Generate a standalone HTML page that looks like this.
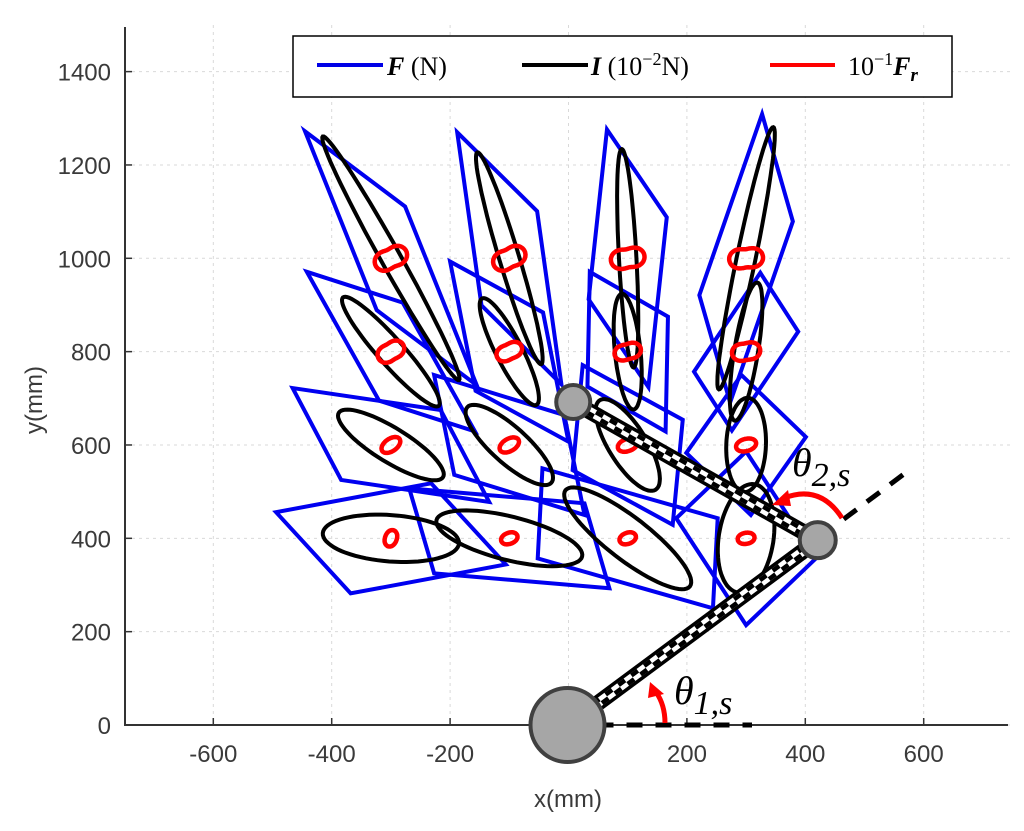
<!DOCTYPE html>
<html><head><meta charset="utf-8">
<style>
html,body{margin:0;padding:0;background:#fff;}
svg{display:block;}
.tick{font-family:"Liberation Sans",sans-serif;font-size:24px;fill:#3a3a3a;}
.lg{font-family:"Liberation Serif",serif;font-size:26px;fill:#000;}
.th{font-family:"Liberation Serif",serif;font-size:40px;font-style:italic;fill:#000;}
</style></head>
<body>
<svg id="chart" width="1024" height="831" viewBox="0 0 1024 831" xmlns="http://www.w3.org/2000/svg">
<g id="grid"></g>
<g id="axes"></g>
<g id="marks"></g>
<g id="robot"></g>
<g>
  <rect x="293" y="36" width="659" height="61" fill="#fff" stroke="#000" stroke-width="1.5"/>
  <line x1="317" y1="65" x2="383" y2="65" stroke="#0000e6" stroke-width="4"/>
  <text x="387" y="75" class="lg"><tspan font-weight="bold" font-style="italic">F</tspan> (N)</text>
  <line x1="522" y1="65" x2="588" y2="65" stroke="#000" stroke-width="4"/>
  <text x="591" y="75" class="lg"><tspan font-weight="bold" font-style="italic">I</tspan> (10<tspan dy="-10" font-size="18">−2</tspan><tspan dy="10">N)</tspan></text>
  <line x1="770" y1="65" x2="835" y2="65" stroke="#ff0000" stroke-width="4"/>
  <text x="848" y="75" class="lg">10<tspan dy="-10" font-size="18">−1</tspan><tspan dy="10" font-weight="bold" font-style="italic">F</tspan><tspan dy="6" font-size="19" font-weight="bold" font-style="italic">r</tspan></text>
</g>
<text x="568" y="807" text-anchor="middle" class="tick" style="font-size:24px">x(mm)</text>
<text transform="translate(42,400) rotate(-90)" text-anchor="middle" class="tick" style="font-size:24px">y(mm)</text>
</svg>
<script>
// axis data
const xTicks = [-600,-400,-200,0,200,400,600];
const xTickLabels = ['-600','-400','-200','0','200','400','600'];
const yTicks = [0,200,400,600,800,1000,1200,1400];
const yTickLabels = ['0','200','400','600','800','1000','1200','1400'];
// sample points (mm)
const ptX = [-300,-100,100,300,-300,-100,100,300,-300,-100,100,300,-300,-100,100,300];
const ptY = [1000,1000,1000,1000,800,800,800,800,600,600,600,600,400,400,400,400];
// black ellipses: major semi-axis vector (mm) and minor/major ratio
const ellMajX = [-115,-54,-10,46,-81,-46,-10,19,-88,-71,-47,3,-115,-123,-105,14];
const ellMajY = [261,227,234,281,116,114,124,148,69,81,96,101,11,39,103,116];
const ellRatio = [0.07,0.09,0.08,0.07,0.18,0.22,0.22,0.17,0.28,0.32,0.36,0.42,0.34,0.29,0.27,0.5];
// blue parallelograms: two half-diagonal vectors (mm)
const parD1X = [-145,-88,-35,27,-142,-100,-64,24,-166,-127,-76,-8,-194,-169,-144,0];
const parD1Y = [272,270,276,309,171,193,171,169,122,150,171,150,56,107,150,186];
const parD2X = [24,47,66,79,20,57,68,88,84,93,93,101,-68,-127,-152,118];
const parD2Y = [111,101,88,79,105,84,75,43,75,64,54,17,-118,-75,-43,-43];
// red force shapes: semi-size (mm), waist depth, angle (deg), aspect
const redSize = [22,22,22,22,19,18,18,19,17,17,16,16,13,13,13,13];
const redWaist = [0.3,0.3,0.3,0.3,0.26,0.26,0.26,0.26,0.05,0.05,0.08,0.08,0.1,0.1,0.1,0.1];
const redAngle = [25,25,10,5,30,25,15,10,35,30,20,15,70,20,20,10];
const redAspect = [1.0,1.0,1.0,1.0,1.0,0.95,0.95,1.0,0.65,0.65,0.7,0.7,0.85,0.8,0.8,0.8];
// robot configuration (mm)
const jointX = [0,421,8];
const jointY = [0,396,692];

const X0=568.5, XS=0.592, Y0=725, YS=0.4667;
const sx = v => X0 + v*XS;
const sy = v => Y0 - v*YS;
const NS='http://www.w3.org/2000/svg';
function mk(tag, attrs, parent){const e=document.createElementNS(NS,tag);for(const k in attrs)e.setAttribute(k,attrs[k]);parent.appendChild(e);return e;}

const grid=document.getElementById('grid'), axes=document.getElementById('axes');
xTicks.forEach((t,i)=>{
  const g=mk('line',{x1:sx(t),x2:sx(t),y1:25,y2:725,stroke:'#d9d9d9','stroke-width':1,'stroke-dasharray':'3 4'},grid);
  
  
  const tk=mk('line',{x1:sx(t),x2:sx(t),y1:725,y2:718,stroke:'#333','stroke-width':1.5},axes);
  
  
  if(t!==0){
    const tx=mk('text',{x:sx(t),y:762,'text-anchor':'middle',class:'tick'},axes);
    tx.textContent=xTickLabels[i];
    
    
  }
});
yTicks.forEach((t,i)=>{
  const g=mk('line',{x1:125,x2:1010,y1:sy(t),y2:sy(t),stroke:'#d9d9d9','stroke-width':1,'stroke-dasharray':'3 4'},grid);
  
  
  const tk=mk('line',{x1:125,x2:132,y1:sy(t),y2:sy(t),stroke:'#333','stroke-width':1.5},axes);
  
  
  const tx=mk('text',{x:111,y:sy(t)+9,'text-anchor':'end',class:'tick'},axes);
  tx.textContent=yTickLabels[i];
  
  
});
const ax1=mk('line',{x1:125,x2:125,y1:27,y2:726,stroke:'#333','stroke-width':2},axes);


const ax2=mk('line',{x1:124,x2:1008,y1:725,y2:725,stroke:'#333','stroke-width':2},axes);



const marks=document.getElementById('marks');
const gB=mk('g',{},marks), gK=mk('g',{},marks), gR=mk('g',{},marks);
ptX.forEach((px,i)=>{
  const cx=sx(px), cy=sy(ptY[i]);
  const d1x=parD1X[i]*XS, d1y=-parD1Y[i]*YS, d2x=parD2X[i]*XS, d2y=-parD2Y[i]*YS;
  const pts=[[cx+d1x,cy+d1y],[cx+d2x,cy+d2y],[cx-d1x,cy-d1y],[cx-d2x,cy-d2y]].map(p=>p.join(',')).join(' ');
  const pg=mk('polygon',{points:pts,fill:'none',stroke:'#0000f0','stroke-width':4,'stroke-linejoin':'miter'},gB);
  
  
  const ux=ellMajX[i]*XS, uy=-ellMajY[i]*YS;
  const vx=-uy*ellRatio[i], vy=ux*ellRatio[i];
  let d='';
  for(let k=0;k<=72;k++){const t=k/72*2*Math.PI;const x=cx+ux*Math.cos(t)+vx*Math.sin(t),y=cy+uy*Math.cos(t)+vy*Math.sin(t);d+=(k?'L':'M')+x.toFixed(1)+' '+y.toFixed(1);}
  const el=mk('path',{d:d+'Z',fill:'none',stroke:'#000','stroke-width':4},gK);
  
  
  const a=redSize[i]*XS, w=redWaist[i], ang=redAngle[i]*Math.PI/180, asp=redAspect[i];
  let dr='';
  for(let k=0;k<=90;k++){const t=k/90*2*Math.PI;const r=a*(1+w*Math.cos(2*t));const ex=r*Math.cos(t), ey=r*asp*Math.sin(t);
    const x=cx+ex*Math.cos(ang)+ey*Math.sin(ang), y=cy-ex*Math.sin(ang)+ey*Math.cos(ang);dr+=(k?'L':'M')+x.toFixed(1)+' '+y.toFixed(1);}
  const rd=mk('path',{d:dr+'Z',fill:'none',stroke:'#ff0000','stroke-width':4.5},gR);
  
  
});

const robot=document.getElementById('robot');
function link(x1,y1,x2,y2){
  const L=Math.hypot(x2-x1,y2-y1), a=Math.atan2(y2-y1,x2-x1)*180/Math.PI;
  const g=mk('g',{transform:`translate(${x1},${y1}) rotate(${a})`},robot);
  
  
  mk('rect',{x:0,y:-8,width:L,height:16,fill:'#000'},g);
  mk('rect',{x:0,y:-4.5,width:L,height:9,fill:'#fff'},g);
  mk('line',{x1:0,y1:-2.3,x2:L,y2:-2.3,stroke:'#000','stroke-width':4.5,'stroke-dasharray':'8 8'},g);
  mk('line',{x1:0,y1:2.3,x2:L,y2:2.3,stroke:'#000','stroke-width':4.5,'stroke-dasharray':'8 8','stroke-dashoffset':8},g);
}
const bx=sx(jointX[0]), by=sy(jointY[0]), j2x=sx(jointX[1]), j2y=sy(jointY[1]), ex=sx(jointX[2]), ey=sy(jointY[2]);
const ref1=mk('line',{x1:bx,y1:by,x2:752,y2:by,stroke:'#000','stroke-width':5,'stroke-dasharray':'16 13'},robot);


const ref2=mk('line',{x1:j2x+26,y1:j2y-21,x2:908,y2:471,stroke:'#000','stroke-width':5,'stroke-dasharray':'16 13'},robot);


link(bx,by,j2x,j2y);
link(j2x,j2y,ex,ey);
const c0=mk('circle',{cx:bx-1,cy:by,r:37,fill:'#a6a6a6',stroke:'#404040','stroke-width':4},robot);


const c1=mk('circle',{cx:j2x,cy:j2y,r:18,fill:'#a6a6a6',stroke:'#404040','stroke-width':4},robot);


const c2=mk('circle',{cx:ex,cy:ey,r:17,fill:'#a6a6a6',stroke:'#404040','stroke-width':4},robot);


const a1=mk('path',{d:'M665 723 Q665 705 656 692',fill:'none',stroke:'#ff0000','stroke-width':5},robot);


const h1=mk('polygon',{points:'650,682 648,698 664,694',fill:'#ff0000'},robot);


const a2=mk('path',{d:'M842 518 Q820 484 784 498',fill:'none',stroke:'#ff0000','stroke-width':5},robot);


const h2=mk('polygon',{points:'772,505 788,490 791,506',fill:'#ff0000'},robot);


const t1=mk('text',{x:674,y:704,class:'th'},robot);
t1.innerHTML='θ<tspan dy="10" font-size="34">1,s</tspan>';


const t2=mk('text',{x:792,y:476,class:'th'},robot);
t2.innerHTML='θ<tspan dy="10" font-size="34">2,s</tspan>';


</script>
</body></html>
